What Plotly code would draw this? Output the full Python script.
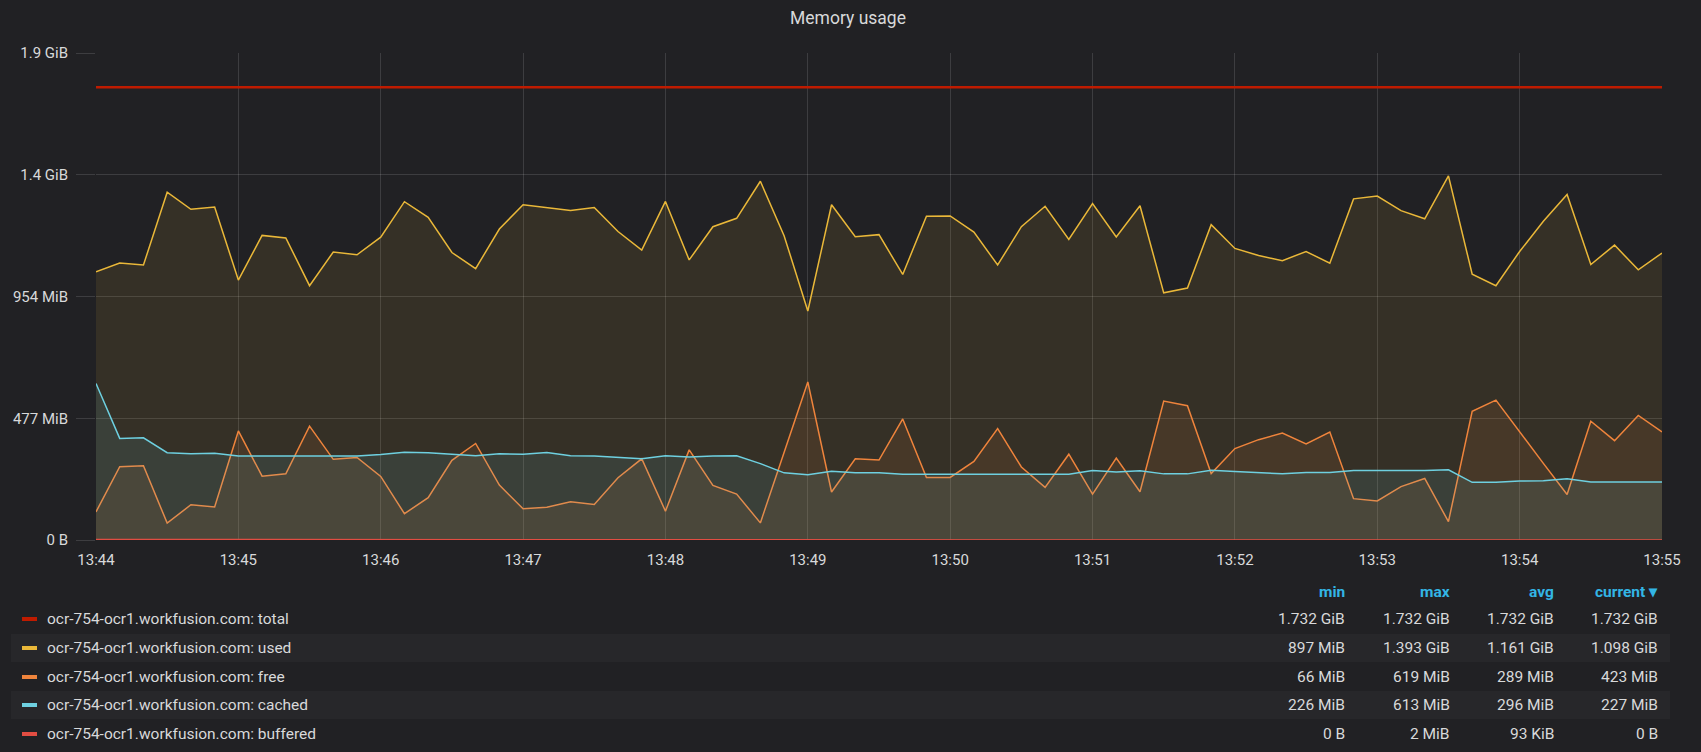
import pandas as pd
import plotly.graph_objects as go

# ---------------- data (MiB) ----------------
times = pd.date_range("2019-01-01 13:44:00", periods=67, freq="10s")

total_mib = [1773.6, 1773.6, 1773.6, 1773.6, 1773.6, 1773.6, 1773.6, 1773.6, 1773.6, 1773.6,
             1773.6, 1773.6, 1773.6, 1773.6, 1773.6, 1773.6, 1773.6, 1773.6, 1773.6, 1773.6,
             1773.6, 1773.6, 1773.6, 1773.6, 1773.6, 1773.6, 1773.6, 1773.6, 1773.6, 1773.6,
             1773.6, 1773.6, 1773.6, 1773.6, 1773.6, 1773.6, 1773.6, 1773.6, 1773.6, 1773.6,
             1773.6, 1773.6, 1773.6, 1773.6, 1773.6, 1773.6, 1773.6, 1773.6, 1773.6, 1773.6,
             1773.6, 1773.6, 1773.6, 1773.6, 1773.6, 1773.6, 1773.6, 1773.6, 1773.6, 1773.6,
             1773.6, 1773.6, 1773.6, 1773.6, 1773.6, 1773.6, 1773.6]

used_mib = [1050, 1085, 1077, 1362, 1295, 1304, 1018, 1193, 1183, 996,
            1128, 1117, 1186, 1325, 1264, 1126, 1063, 1218, 1313, 1302,
            1291, 1302, 1208, 1135, 1326, 1097, 1227, 1260, 1405, 1192,
            897, 1313, 1188, 1196, 1040, 1268, 1269, 1206, 1077, 1227,
            1307, 1177, 1318, 1187, 1309, 968, 987, 1235, 1142, 1114,
            1094, 1130, 1084, 1336, 1347, 1290, 1258, 1426, 1041, 996,
            1130, 1248, 1353, 1079, 1155, 1058, 1124]

free_mib = [110, 287, 291, 66, 138, 129, 427, 250, 259, 446,
            316, 323, 249, 103, 166, 312, 378, 215, 122, 128,
            150, 139, 244, 318, 113, 353, 214, 180, 67, 344,
            619, 188, 318, 313, 474, 245, 245, 308, 436, 286,
            206, 336, 180, 321, 189, 544, 526, 260, 358, 393,
            419, 376, 423, 162, 153, 209, 241, 72, 504, 548,
            423, 300, 178, 465, 389, 488, 423]

cached_mib = [613, 398, 400, 342, 338, 340, 329, 329, 329, 329,
              329, 329, 335, 344, 342, 336, 330, 338, 336, 343,
              330, 329, 323, 318, 330, 325, 329, 330, 299, 263,
              256, 269, 263, 263, 258, 258, 258, 258, 258, 258,
              258, 258, 272, 266, 271, 259, 259, 273, 268, 263,
              259, 264, 264, 272, 272, 272, 272, 275, 226, 226,
              231, 232, 240, 227, 227, 227, 227]

buffered_mib = [2.0, 1.9, 1.6, 0.5, 0, 0, 0, 0, 0, 0,
                0, 0, 0, 0, 0, 0, 0, 0, 0, 0,
                0, 0, 0, 0, 0, 0, 0, 0, 0, 0,
                0, 0, 0, 0, 0, 0, 0, 0, 0, 0,
                0, 0, 0, 0, 0, 0, 0, 0, 0, 0,
                0, 0, 0, 0, 0, 0, 0, 0, 0, 0,
                0, 0, 0, 0, 0, 0, 0]

y_tickvals_mib = [0, 476.84, 953.67, 1430.51, 1907.35]
y_ticktext = ["0 B", "477 MiB", "954 MiB", "1.4 GiB", "1.9 GiB"]

series_names = ["ocr-754-ocr1.workfusion.com: total",
                "ocr-754-ocr1.workfusion.com: used",
                "ocr-754-ocr1.workfusion.com: free",
                "ocr-754-ocr1.workfusion.com: cached",
                "ocr-754-ocr1.workfusion.com: buffered"]
stat_headers = ["min", "max", "avg", "current \u25BE"]
stat_min = ["1.732 GiB", "897 MiB", "66 MiB", "226 MiB", "0 B"]
stat_max = ["1.732 GiB", "1.393 GiB", "619 MiB", "613 MiB", "2 MiB"]
stat_avg = ["1.732 GiB", "1.161 GiB", "289 MiB", "296 MiB", "93 KiB"]
stat_current = ["1.732 GiB", "1.098 GiB", "423 MiB", "227 MiB", "0 B"]

# ---------------- styling ----------------
colors = ["#BF1B00", "#EAB839", "#EF843C", "#6ED0E0", "#E24D42"]
fills = [None, "rgba(234,184,57,0.1)", "rgba(239,132,60,0.1)", "rgba(110,208,224,0.1)", None]
widths = [2.5, 1.5, 1.5, 1.5, 1.5]
BG = "#212124"
TXT = "#d8d9da"
GRID = "rgba(255,255,255,0.13)"
FONT = "Roboto"
TICK_SIZE = 15
LEG_SIZE = 15.5

W, H = 1701, 752
L, R, T, B = 96, 1662, 53, 540


def px(x):
    return (x - L) / (R - L)


def py(y):
    return (B - y) / (B - T)


fig = go.Figure()
all_series = [total_mib, used_mib, free_mib, cached_mib, buffered_mib]
for name, vals, c, f, w in zip(series_names, all_series, colors, fills, widths):
    fig.add_trace(go.Scatter(
        x=times, y=vals, name=name, mode="lines",
        line=dict(color=c, width=w),
        fill="tozeroy" if f else None,
        fillcolor=f,
        hoverinfo="skip",
    ))

fig.update_layout(
    width=W, height=H,
    margin=dict(l=L, r=W - R, t=T, b=H - B, pad=0),
    paper_bgcolor=BG, plot_bgcolor=BG,
    showlegend=False,
    font=dict(family=FONT, color=TXT, size=TICK_SIZE),
    title=dict(text="Memory usage", x=848 / W, xanchor="center",
               y=1 - 18 / H, yanchor="middle", yref="container",
               font=dict(family=FONT, size=17.5, color=TXT)),
)

fig.update_xaxes(
    range=[times[0], times[-1]],
    dtick=60000, tickformat="%H:%M",
    showgrid=True, gridcolor=GRID, gridwidth=1,
    zeroline=False, showline=False, ticks="",
    ticklabelstandoff=9,
    tickfont=dict(family=FONT, size=TICK_SIZE, color=TXT),
)
fig.update_yaxes(
    range=[0, 1907.35],
    tickvals=y_tickvals_mib, ticktext=y_ticktext,
    showgrid=True, gridcolor=GRID, gridwidth=1,
    zeroline=False, showline=False,
    ticks="outside", ticklen=19, tickcolor=GRID, tickwidth=1,
    ticklabelstandoff=5,
    tickfont=dict(family=FONT, size=TICK_SIZE, color=TXT),
)

# ---------------- legend table ----------------
row_y = [619, 648, 677, 705, 734]
header_y = 592
col_x = [1347, 1452, 1556, 1660]

shapes = []
annotations = []
for i, ry in enumerate(row_y):
    if i % 2 == 1:
        shapes.append(dict(type="rect", xref="paper", yref="paper",
                           x0=px(11), x1=px(1670), y0=py(ry + 14), y1=py(ry - 14),
                           fillcolor="#27272a", line=dict(width=0), layer="below"))
    shapes.append(dict(type="rect", xref="paper", yref="paper",
                       x0=px(22), x1=px(37), y0=py(ry + 2), y1=py(ry - 2),
                       fillcolor=colors[i], line=dict(width=0)))
    annotations.append(dict(xref="paper", yref="paper", x=px(45), y=py(ry),
                            xanchor="left", yanchor="middle", showarrow=False,
                            text=series_names[i],
                            font=dict(family=FONT, size=LEG_SIZE, color=TXT)))
    for cx, col in zip(col_x, [stat_min, stat_max, stat_avg, stat_current]):
        annotations.append(dict(xref="paper", yref="paper", x=px(cx), y=py(ry),
                                xanchor="right", yanchor="middle", showarrow=False,
                                text=col[i],
                                font=dict(family=FONT, size=LEG_SIZE, color=TXT)))

for cx, htxt in zip(col_x, stat_headers):
    annotations.append(dict(xref="paper", yref="paper", x=px(cx), y=py(header_y),
                            xanchor="right", yanchor="middle", showarrow=False,
                            text="<b>" + htxt + "</b>",
                            font=dict(family=FONT, size=LEG_SIZE, color="#33b5e5")))

fig.update_layout(shapes=shapes, annotations=annotations)

fig.write_html("out.html", config={"displayModeBar": False},
               post_script="document.body.style.margin='0';")
